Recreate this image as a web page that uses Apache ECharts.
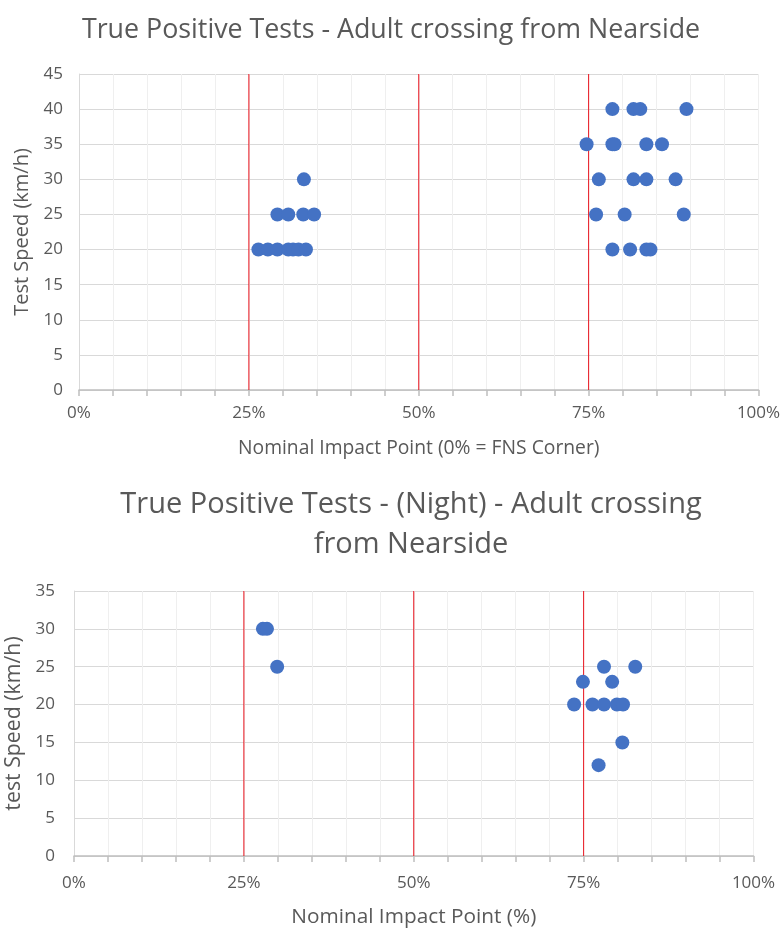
<!DOCTYPE html>
<html><head><meta charset="utf-8">
<script src="https://cdn.jsdelivr.net/npm/echarts@6/dist/echarts.min.js"></script>
<style>html,body{margin:0;padding:0;background:#fff}#c{width:782px;height:930px}</style>
</head><body><div id="c"></div>
<script>
// Top chart (day) : [impact point %, speed km/h]
const dayImpact = [26.4,27.8,29.2,30.8,31.5,32.3,33.4, 29.2,30.8,33.0,34.6, 33.1,
  78.5,81.1,83.5,84.1, 76.1,80.3,89.0, 76.5,81.6,83.5,87.8, 74.7,78.5,78.8,83.5,85.8, 78.5,81.6,82.6,89.4];
const daySpeed = [20,20,20,20,20,20,20, 25,25,25,25, 30,
  20,20,20,20, 25,25,25, 30,30,30,30, 35,35,35,35,35, 40,40,40,40];
// Bottom chart (night)
const nightImpact = [27.8,28.4,29.9, 78.0,82.6, 74.9,79.2, 73.6,76.3,78.0,79.9,80.8, 80.7, 77.2];
const nightSpeed = [30,30,25, 25,25, 23,23, 20,20,20,20,20, 15, 12];
const refLines = [25,50,75];
const yMax = [45,35];
const xLabels = ['0%','25%','50%','75%','100%'];
const titles = ['True Positive Tests - Adult crossing from Nearside','True Positive Tests - (Night) - Adult crossing\nfrom Nearside'];
const xNames = ['Nominal Impact Point (0% = FNS Corner)','Nominal Impact Point (%)'];
const yNames = ['Test Speed (km/h)','test Speed (km/h)'];

const FONT = 'Open Sans, sans-serif';
const txt = '#595959';
const chart = echarts.init(document.getElementById('c'), null, {renderer:'canvas'});
const cfg = [
  {xNameSize:19.3, xNameGap:49, xLabMargin:15, yNameSize:20, yNameGap:46, yLabMargin:16},
  {xNameSize:20.8, xNameGap:51, xLabMargin:19, yNameSize:21.3, yNameGap:48, yLabMargin:19}
];
function xAxis(i){
  const c = cfg[i];
  return {gridIndex:i, type:'value', min:0, max:100, interval:5,
    name:xNames[i], nameLocation:'middle', nameGap:c.xNameGap,
    nameTextStyle:{color:txt, fontSize:c.xNameSize, fontFamily:FONT},
    axisLine:{lineStyle:{color:'#bfbfbf', width:1.5}},
    axisTick:{show:true, length:6, lineStyle:{color:'#bfbfbf', width:1.5}},
    axisLabel:{color:txt, fontSize:17, fontFamily:FONT, margin:c.xLabMargin,
      formatter:v => (v % 25 === 0) ? xLabels[v/25] : ''},
    splitLine:{show:true, lineStyle:{color:'#efefef', width:1}}};
}
function yAxis(i){
  const c = cfg[i];
  return {gridIndex:i, type:'value', min:0, max:yMax[i], interval:5,
    name:yNames[i], nameLocation:'middle', nameGap:c.yNameGap,
    nameTextStyle:{color:txt, fontSize:c.yNameSize, fontFamily:FONT},
    axisLine:{show:true, lineStyle:{color:'#d9d9d9', width:1}},
    axisTick:{show:false},
    axisLabel:{color:txt, fontSize:17, fontFamily:FONT, margin:c.yLabMargin},
    splitLine:{show:true, lineStyle:{color:'#d9d9d9', width:1}}};
}
function scatter(i, xs, ys){
  return {type:'scatter', xAxisIndex:i, yAxisIndex:i, symbolSize:14,
    itemStyle:{color:'#4472C4', opacity:1},
    data: xs.map((x,k)=>[x, ys[k]]), z:3};
}
function refSeries(i){
  return refLines.map(v => ({type:'line', xAxisIndex:i, yAxisIndex:i, symbol:'none', silent:true,
    lineStyle:{color:'#e8121c', width:1}, data:[[v,0],[v,yMax[i]]], z:2}));
}
chart.setOption({
  animation:false,
  backgroundColor:'#fff',
  title:[
    {text:titles[0], left:'center', top:12, textStyle:{color:txt, fontSize:26.8, fontWeight:'normal', fontFamily:FONT}},
    {text:titles[1], left:406, textAlign:'center', top:480, textStyle:{color:txt, fontSize:29, fontWeight:'normal', fontFamily:FONT, lineHeight:40}}
  ],
  grid:[
    {left:79, right:23.5, top:74, height:316, containLabel:false, outerBoundsMode:'none'},
    {left:74, right:28.5, top:591, height:265, containLabel:false, outerBoundsMode:'none'}
  ],
  xAxis:[xAxis(0), xAxis(1)],
  yAxis:[yAxis(0), yAxis(1)],
  series:[...refSeries(0), ...refSeries(1), scatter(0, dayImpact, daySpeed), scatter(1, nightImpact, nightSpeed)]
});
</script></body></html>
